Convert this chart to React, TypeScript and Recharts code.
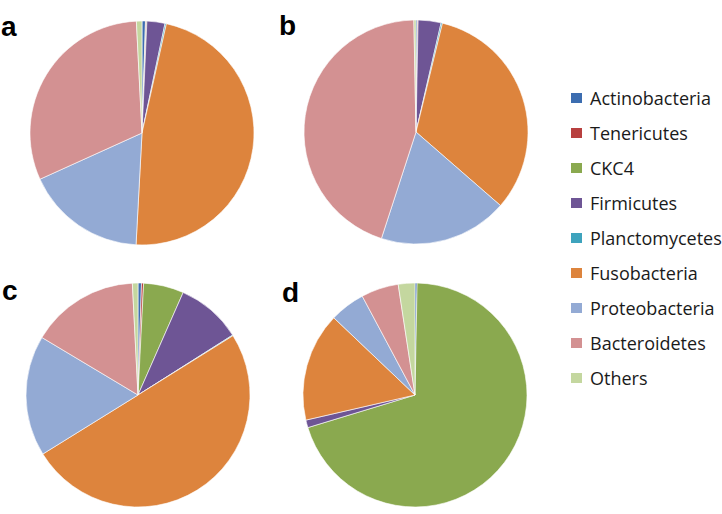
import { PieChart, Pie, Cell, Legend } from 'recharts';

const phyla = [
  'Actinobacteria',
  'Tenericutes',
  'CKC4',
  'Firmicutes',
  'Planctomycetes',
  'Fusobacteria',
  'Proteobacteria',
  'Bacteroidetes',
  'Others',
];

const colors = [
  '#3c6db0',
  '#b8403f',
  '#8aa94f',
  '#6e5595',
  '#3ea3bd',
  '#dd843d',
  '#93aad4',
  '#d39192',
  '#c4d79f',
];

// percentages per sample, same order as phyla
const sampleA = [0.5, 0.1, 0.1, 2.6, 0.2, 47.4, 17.4, 31.0, 0.8];
const sampleB = [0.2, 0.1, 0.0, 3.3, 0.2, 32.6, 18.6, 44.7, 0.3];
const sampleC = [0.5, 0.3, 5.8, 9.4, 0.1, 50.0, 17.4, 15.6, 0.8];
const sampleD = [0.3, 0.0, 70.0, 1.1, 0.0, 15.7, 5.1, 5.4, 2.4];

const panelLabels = ['a', 'b', 'c', 'd'];

const toRows = (values: number[]) =>
  phyla.map((name, i) => ({ name, value: values[i] }));

const panels = [
  { data: toRows(sampleA), cx: 142, cy: 133 },
  { data: toRows(sampleB), cx: 416, cy: 132 },
  { data: toRows(sampleC), cx: 138, cy: 395 },
  { data: toRows(sampleD), cx: 415, cy: 395 },
];

const labelPos = [
  { x: 1, y: 36 },
  { x: 279, y: 35 },
  { x: 2, y: 300 },
  { x: 282, y: 302 },
];

function LegendBox() {
  return (
    <div style={{ fontFamily: '"Open Sans", sans-serif', fontSize: 18, color: '#1a1a1a' }}>
      {phyla.map((name, i) => (
        <div key={name} style={{ display: 'flex', alignItems: 'center', height: 35.1 }}>
          <span
            style={{
              display: 'inline-block',
              width: 11,
              height: 10,
              background: colors[i],
              marginRight: 8,
            }}
          />
          <span>{name}</span>
        </div>
      ))}
    </div>
  );
}

export default function App() {
  return (
    <div style={{ position: 'fixed', left: 0, top: 0, width: 722, height: 514, background: '#fff' }}>
      <PieChart width={722} height={514} margin={{ top: 0, right: 0, bottom: 0, left: 0 }}>
        {panels.map((p, k) => (
          <Pie
            key={k}
            data={p.data}
            dataKey="value"
            nameKey="name"
            cx={p.cx}
            cy={p.cy}
            outerRadius={112}
            startAngle={90}
            endAngle={-270}
            stroke="#ffffff"
            strokeWidth={0.6}
            isAnimationActive={false}
            legendType="none"
          >
            {p.data.map((d, i) => (
              <Cell key={d.name} fill={colors[i]} />
            ))}
          </Pie>
        ))}
        {panelLabels.map((t, k) => (
          <text
            key={t}
            x={labelPos[k].x}
            y={labelPos[k].y}
            fontFamily="'Liberation Sans', Arial, sans-serif"
            fontWeight="bold"
            fontSize={28}
            fill="#000"
          >
            {t}
          </text>
        ))}
        <Legend
          layout="vertical"
          verticalAlign="top"
          align="right"
          wrapperStyle={{ left: 571, top: 80, width: 151 }}
          content={() => <LegendBox />}
        />
      </PieChart>
    </div>
  );
}
